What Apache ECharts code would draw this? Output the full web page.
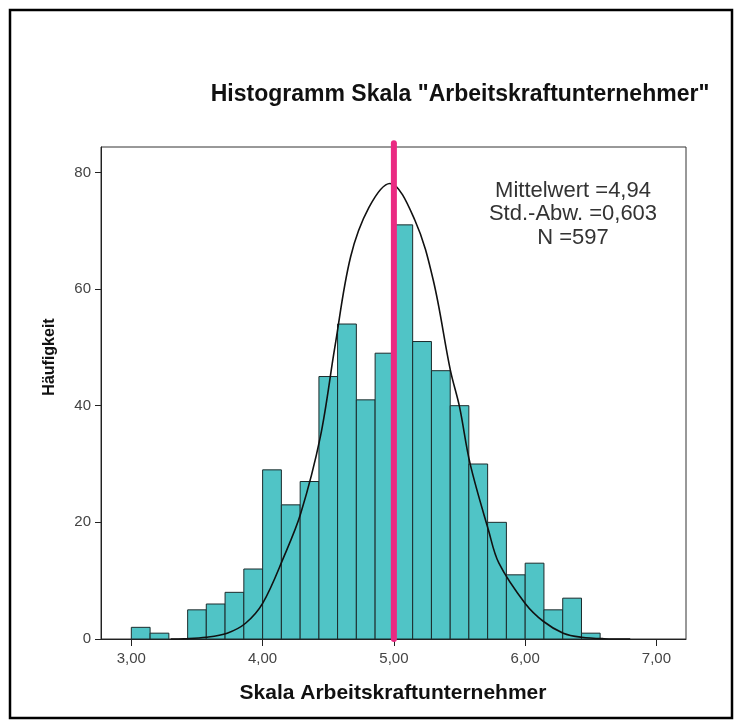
<!DOCTYPE html>
<html>
<head>
<meta charset="utf-8">
<script src="https://cdn.jsdelivr.net/npm/echarts@6/dist/echarts.min.js"></script>
<style>
  html, body { margin: 0; padding: 0; background: #ffffff; }
  #chart { width: 742px; height: 727px; }
</style>
</head>
<body>
<div id="chart"></div>
<script>
// ---- data ----
const chartTitle = 'Histogramm Skala "Arbeitskraftunternehmer"';
const xAxisTitle = 'Skala Arbeitskraftunternehmer';
const yAxisTitle = 'Häufigkeit';
const statsLines = ['Mittelwert =4,94', 'Std.-Abw. =0,603', 'N =597'];

// histogram bin edges (lower edge of each bin, plus the final upper edge)
const binEdges = [3.000, 3.143, 3.286, 3.429, 3.571, 3.714, 3.857, 4.000, 4.143, 4.286,
                  4.429, 4.571, 4.714, 4.857, 5.000, 5.143, 5.286, 5.429, 5.571, 5.714,
                  5.857, 6.000, 6.143, 6.286, 6.429, 6.571];
// frequency per bin
const binCounts = [2, 1, 0, 5, 6, 8, 12, 29, 23, 27, 45, 54, 41, 49, 71, 51, 46, 40, 30, 20, 11, 13, 5, 7, 1];

// normal curve, points
const curveX = [3.30, 3.40, 3.57, 3.73, 3.87, 4.00, 4.16, 4.29, 4.44, 4.55, 4.67, 4.81, 4.97,
                5.16, 5.30, 5.43, 5.50, 5.58, 5.72, 5.80, 6.00, 6.14, 6.29, 6.43, 6.60, 6.80];
const curveY = [0, 0.05, 0.3, 1.0, 2.7, 6.1, 14.0, 21.5, 34.7, 50.0, 65.5, 74.0, 78.1,
                71.8, 61.5, 46.1, 39.8, 30.1, 18.7, 13.0, 6.1, 3.0, 1.0, 0.3, 0.05, 0];

// vertical reference line
const meanLineX = 5.0;
const meanLineY = [0, 85];

// axis ticks
const xTickValues = [3, 4, 5, 6, 7];
const xTickLabels = ['3,00', '4,00', '5,00', '6,00', '7,00'];
const yTickValues = [0, 20, 40, 60, 80];

// ---- build chart ----
const histData = binCounts.map((c, i) => [binEdges[i], binEdges[i + 1], c]);
const curveData = curveX.map((x, i) => [x, curveY[i]]);

const chart = echarts.init(document.getElementById('chart'), null, { renderer: 'canvas' });

const FONT = "'Liberation Sans', Arial, sans-serif";

chart.setOption({
  backgroundColor: '#ffffff',
  animation: false,
  grid: {
    left: 101, right: 56, top: 147, bottom: 88,
    show: true, borderColor: '#333333', borderWidth: 1, backgroundColor: '#ffffff'
  },
  xAxis: {
    type: 'value',
    min: 2.769, max: 7.225,
    axisLine: { show: true, lineStyle: { color: '#222222', width: 1 } },
    axisTick: { show: true, length: 7, inside: false, customValues: xTickValues, lineStyle: { color: '#222222' } },
    axisLabel: {
      show: true, customValues: xTickValues, margin: 12,
      fontFamily: FONT, fontSize: 15, color: '#444444',
      formatter: (v) => { const i = xTickValues.indexOf(Math.round(v)); return i >= 0 ? xTickLabels[i] : ''; }
    },
    splitLine: { show: false }
  },
  yAxis: {
    type: 'value',
    min: 0, max: 84.35, interval: 20,
    axisLine: { show: true, lineStyle: { color: '#222222', width: 1 } },
    axisTick: { show: true, length: 6, inside: false, customValues: yTickValues, lineStyle: { color: '#222222' } },
    axisLabel: { show: true, customValues: yTickValues, margin: 10, fontFamily: FONT, fontSize: 15, color: '#444444' },
    splitLine: { show: false }
  },
  series: [
    {
      type: 'custom',
      data: histData,
      encode: { x: [0, 1], y: 2 },
      renderItem: function (params, api) {
        const x0 = api.value(0), x1 = api.value(1), c = api.value(2);
        if (!c) return null;
        const p0 = api.coord([x0, 0]);
        const p1 = api.coord([x1, c]);
        return {
          type: 'rect',
          shape: { x: p0[0], y: p1[1], width: p1[0] - p0[0], height: p0[1] - p1[1] },
          style: { fill: '#50c4c6', stroke: '#1c2b2c', lineWidth: 1 }
        };
      },
      z: 2
    },
    {
      type: 'line',
      data: curveData,
      smooth: 0.35,
      showSymbol: false,
      symbol: 'none',
      lineStyle: { color: '#111111', width: 1.6 },
      z: 3
    },
    {
      type: 'line',
      data: [[meanLineX, meanLineY[0]], [meanLineX, meanLineY[1]]],
      showSymbol: false,
      symbol: 'none',
      clip: false,
      lineStyle: { color: '#ea2a82', width: 6, cap: 'round' },
      z: 4
    }
  ],
  graphic: [
    {
      type: 'rect', silent: true,
      shape: { x: 10, y: 10, width: 722, height: 708 },
      style: { fill: 'none', stroke: '#000000', lineWidth: 2.5 }
    },
    {
      type: 'text', x: 460, y: 95, silent: true,
      style: { text: chartTitle, font: "bold 23px 'Liberation Sans', Arial, sans-serif", fill: '#111111', align: 'center', verticalAlign: 'middle' }
    },
    {
      type: 'text', x: 393, y: 693, silent: true,
      style: { text: xAxisTitle, font: "bold 21px 'Liberation Sans', Arial, sans-serif", fill: '#111111', align: 'center', verticalAlign: 'middle' }
    },
    {
      type: 'text', x: 50, y: 357, rotation: Math.PI / 2, silent: true,
      style: { text: yAxisTitle, font: "bold 16px 'Liberation Sans', Arial, sans-serif", fill: '#111111', align: 'center', verticalAlign: 'middle' }
    },
    {
      type: 'text', x: 573, y: 179, silent: true,
      style: { text: statsLines.join('\n'), font: "22px 'Liberation Sans', Arial, sans-serif", lineHeight: 23.5, fill: '#333333', align: 'center', verticalAlign: 'top' }
    }
  ]
});
</script>
</body>
</html>
